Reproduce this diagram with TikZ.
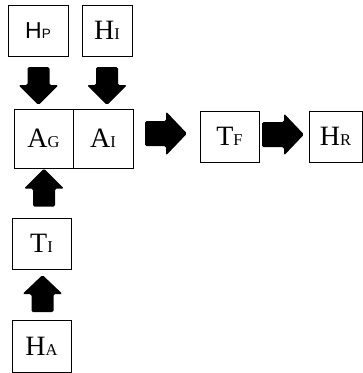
\documentclass[tikz,border=0pt]{standalone}
\usepackage{fontspec}
\setmainfont{Liberation Serif}
\newfontfamily\labelsans{Liberation Sans}

% big capital followed by a smaller capital on the same baseline
\newcommand{\bigsmall}[2]{{\fontsize{28}{28}\selectfont #1}{\fontsize{16.5}{16.5}\selectfont #2}}

% block arrow: name, x, y, rotation, length, head width, shaft width, head length
\newcommand{\blockarrow}[8]{%
  \coordinate (#1) at (#2,#3);
  \fill[arrowfill,shift={(#1)},rotate=#4]
    ({-#5/2},{-#7/2}) -- ({#5/2-#8},{-#7/2}) -- ({#5/2-#8},{-#6/2}) -- ({#5/2},0)
    -- ({#5/2-#8},{#6/2}) -- ({#5/2-#8},{#7/2}) -- ({-#5/2},{#7/2}) -- cycle;}

\begin{document}
\begin{tikzpicture}[x=1pt,y=-1pt,
  box/.style={draw=black,line width=0.9pt,rectangle,inner sep=0pt,anchor=center},
  arrowfill/.style={fill=black,rounded corners=1.5pt}]
\useasboundingbox (0,0) rectangle (363,373);

% boxes
\node[box,minimum width=60pt,minimum height=51pt] (hp) at (38,30.5)
  {{\labelsans\fontsize{23}{23}\selectfont H}{\labelsans\fontsize{13.5}{13.5}\selectfont P}};
\node[box,minimum width=50pt,minimum height=51pt] (hi) at (107,30.5) {\bigsmall{H}{I}};
\node[box,minimum width=59pt,minimum height=59pt] (ag) at (43.5,138.5) {\bigsmall{A}{G}};
\node[box,minimum width=60pt,minimum height=59pt] (ai) at (103,138.5) {\bigsmall{A}{I}};
\node[box,minimum width=59pt,minimum height=51pt] (tf) at (229.5,136.5) {\bigsmall{T}{F}};
\node[box,minimum width=53pt,minimum height=51pt] (hr) at (335.5,136.5) {\bigsmall{H}{R}};
\node[box,minimum width=59pt,minimum height=51pt] (ti) at (41.5,243.5) {\bigsmall{T}{I}};
\node[box,minimum width=59pt,minimum height=52pt] (ha) at (41.5,346) {\bigsmall{H}{A}};

% block arrows between the boxes (canvas rotation: -90 points down, 90 up)
\blockarrow{a1}{38.5}{86}{-90}{38}{40}{22}{20}
\blockarrow{a2}{107}{86}{-90}{38}{40}{22}{20}
\blockarrow{a3}{166}{133.5}{0}{42}{44}{25}{21}
\blockarrow{a4}{283}{134.5}{0}{42}{42}{25}{20}
\blockarrow{a5}{44}{187.5}{90}{38}{40}{22}{20}
\blockarrow{a6}{42.5}{293.5}{90}{37}{40}{22}{19}
\end{tikzpicture}
\end{document}
